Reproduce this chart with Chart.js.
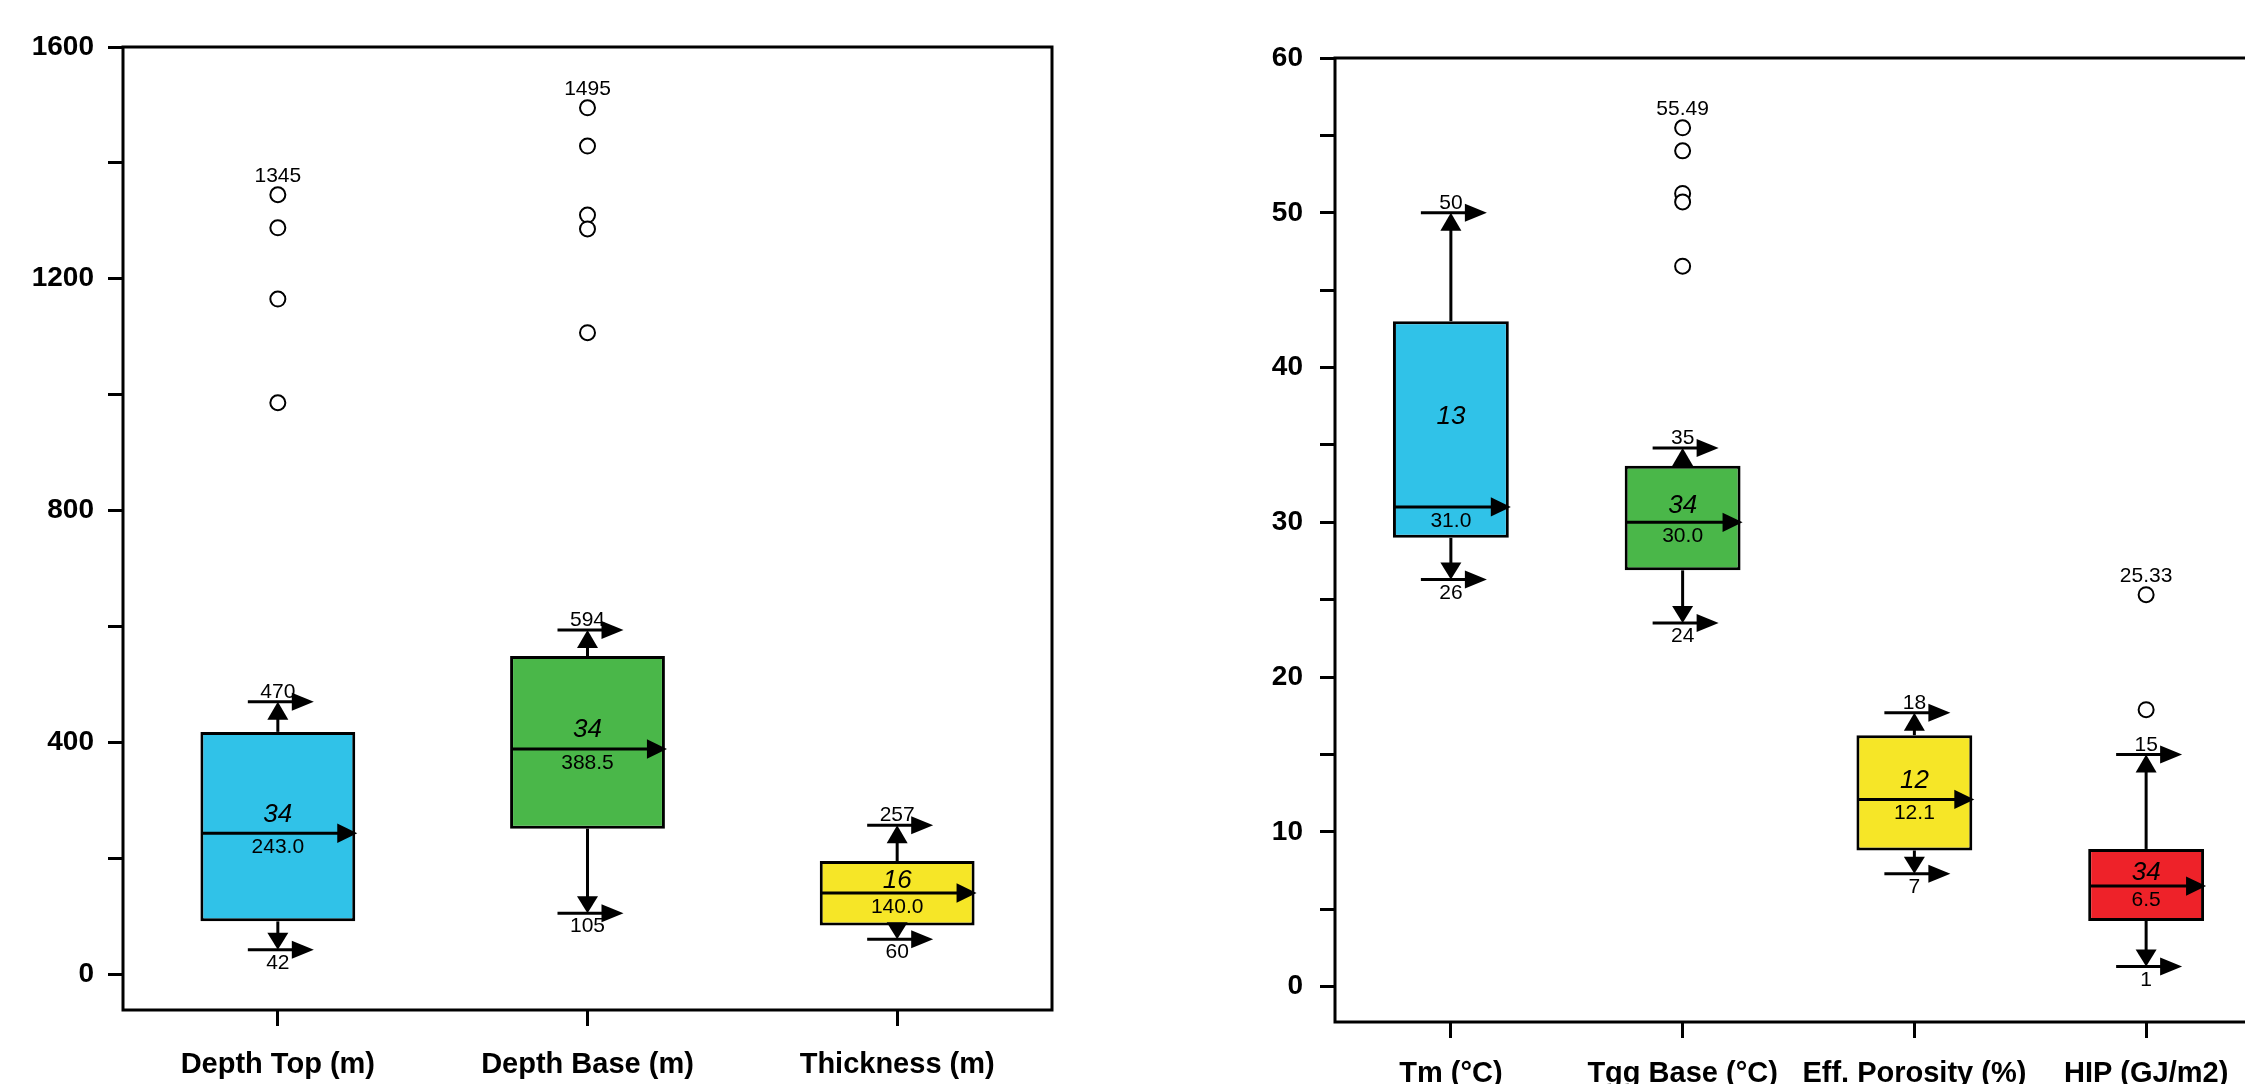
<!DOCTYPE html>
<html>
<head>
<meta charset="utf-8">
<script src="https://cdn.jsdelivr.net/npm/chart.js@4.4.1/dist/chart.umd.min.js"></script>
<style>
  html, body { margin: 0; padding: 0; width: 2245px; height: 1084px; overflow: hidden; background: #fff; }
  canvas { position: absolute; top: 0; }
  #left { left: 0; }
  #right { left: 1150px; }
</style>
</head>
<body>
<canvas id="left" width="1100" height="1084"></canvas>
<canvas id="right" width="1150" height="1100"></canvas>
<script>
// left panel: depths
const leftCats = ['Depth Top (m)', 'Depth Base (m)', 'Thickness (m)'];
const leftQ1 = [91, 251, 84];
const leftQ3 = [418, 549, 195];
const leftMed = [243.0, 388.5, 140.0];
const leftLo = [42, 105, 60];
const leftHi = [470, 594, 257];
const leftN = [34, 34, 16];
const leftOut = [[1345, 1288, 1165, 986], [1495, 1429, 1310, 1286, 1107], []];
const leftColors = ['#30C2E8', '#4AB749', '#F6E627'];
const leftTicks = [0, 200, 400, 600, 800, 1000, 1200, 1400, 1600];
const leftTickLabels = [0, 400, 800, 1200, 1600];

// right panel: temperatures, porosity, HIP
const rightCats = ['Tm (°C)', 'Tgg Base (°C)', 'Eff. Porosity (%)', 'HIP (GJ/m2)'];
const rightQ1 = [29.0, 26.9, 8.8, 4.25];
const rightQ3 = [43.0, 33.65, 16.25, 8.9];
const rightMed = [31.0, 30.0, 12.1, 6.5];
const rightLo = [26.3, 23.5, 7.3, 1.3];
const rightHi = [50, 34.8, 17.7, 15];
const rightN = [13, 34, 12, 34];
const rightOut = [[], [55.49, 54.0, 51.25, 50.7, 46.55], [], [25.33, 17.9]];
const rightColors = ['#30C2E8', '#4AB749', '#F6E627', '#EE2229'];
const rightTicks = [0, 5, 10, 15, 20, 25, 30, 35, 40, 45, 50, 55, 60];
const rightTickLabels = [0, 10, 20, 30, 40, 50, 60];

const FONT = '"Liberation Sans", Arial, sans-serif';

function line(ctx, x1, y1, x2, y2) {
  ctx.beginPath(); ctx.moveTo(x1, y1); ctx.lineTo(x2, y2); ctx.stroke();
}
function arrowRight(ctx, tipX, y, len, half) {
  ctx.beginPath();
  ctx.moveTo(tipX, y);
  ctx.lineTo(tipX - len, y - half);
  ctx.lineTo(tipX - len, y + half);
  ctx.closePath(); ctx.fill();
}
function arrowVert(ctx, x, tipY, dir, len, half) {
  ctx.beginPath();
  ctx.moveTo(x, tipY);
  ctx.lineTo(x - half, tipY - dir * len);
  ctx.lineTo(x + half, tipY - dir * len);
  ctx.closePath(); ctx.fill();
}

// frame round the plot area
const frame = {
  id: 'frame',
  afterDatasetsDraw(chart) {
    const {ctx, chartArea: a} = chart;
    ctx.save();
    ctx.strokeStyle = '#000';
    ctx.lineWidth = 3;
    ctx.strokeRect(a.left, a.top, a.right - a.left, a.bottom - a.top);
    ctx.restore();
  }
};

// whiskers, arrows, medians and text
const boxExtras = {
  id: 'boxExtras',
  afterDatasetsDraw(chart, args, o) {
    const {ctx, scales: {y}} = chart;
    const meta = chart.getDatasetMeta(0);
    ctx.save();
    ctx.fillStyle = '#000';
    ctx.strokeStyle = '#000';
    ctx.lineWidth = 3;
    o.med.forEach((m, i) => {
      const bar = meta.data[i];
      const cx = bar.x, hw = bar.width / 2;
      const yq1 = y.getPixelForValue(o.q1[i]);
      const yq3 = y.getPixelForValue(o.q3[i]);
      const yHi = y.getPixelForValue(o.hi[i]);
      const yLo = y.getPixelForValue(o.lo[i]);
      const yMed = y.getPixelForValue(m);

      line(ctx, cx, yq3, cx, yHi + 4);
      line(ctx, cx, yq1, cx, yLo - 4);
      arrowVert(ctx, cx, yHi, -1, 18, 10.5);
      arrowVert(ctx, cx, yLo, 1, 17, 10.5);

      line(ctx, cx - 30, yHi, cx + 16, yHi);
      arrowRight(ctx, cx + 36, yHi, 22, 9);
      line(ctx, cx - 30, yLo, cx + 16, yLo);
      arrowRight(ctx, cx + 36, yLo, 22, 9);

      line(ctx, cx - hw + 1, yMed, cx + hw - 16, yMed);
      arrowRight(ctx, cx + hw + 2, yMed, 20, 9.7);

      ctx.textAlign = 'center';
      ctx.textBaseline = 'alphabetic';
      ctx.font = '21px ' + FONT;
      ctx.fillText(String(Math.round(o.hi[i])), cx, yHi - 4);
      ctx.fillText(String(Math.round(o.lo[i])), cx, yLo + 19);
      ctx.fillText(m.toFixed(1), cx, yMed + 20);
      if (o.out[i].length) {
        const top = Math.max(...o.out[i]);
        ctx.fillText(String(top), cx, y.getPixelForValue(top) - 13);
      }
      ctx.font = 'italic 26px ' + FONT;
      ctx.fillText(String(o.n[i]), cx, (yq1 + yq3) / 2 - 5);
    });
    ctx.restore();
  }
};

function makeChart(id, cats, q1, q3, med, lo, hi, n, out, colors, ticks, tickLabels, yMin, yMax, geo) {
  const points = [];
  out.forEach((arr, i) => arr.forEach(v => points.push({x: cats[i], y: v})));
  return new Chart(document.getElementById(id), {
    type: 'bar',
    data: {
      labels: cats,
      datasets: [
        {
          data: q1.map((v, i) => [v, q3[i]]),
          backgroundColor: colors,
          borderColor: '#000',
          borderWidth: 3,
          borderSkipped: false,
          barPercentage: 0.5,
          categoryPercentage: 1.0
        },
        {
          type: 'scatter',
          data: points,
          pointStyle: 'circle',
          pointRadius: 7.5,
          pointBorderWidth: 2,
          pointBorderColor: '#000',
          pointBackgroundColor: '#fff'
        }
      ]
    },
    options: {
      responsive: false,
      animation: false,
      layout: { padding: { top: geo.top, right: geo.right, left: 0, bottom: 0 } },
      plugins: {
        legend: { display: false },
        tooltip: { enabled: false },
        boxExtras: { q1, q3, med, lo, hi, n, out }
      },
      scales: {
        x: {
          type: 'category',
          offset: true,
          grid: { display: true, offset: false, drawOnChartArea: false, tickLength: 16, lineWidth: 3, color: '#000' },
          border: { display: false },
          ticks: { color: '#000', font: { family: FONT, size: 29, weight: 'bold' }, padding: geo.xPad, maxRotation: 0, autoSkip: false },
          afterFit(scale) { scale.height = geo.xHeight; }
        },
        y: {
          min: yMin,
          max: yMax,
          grid: { display: true, drawOnChartArea: false, tickLength: 15, lineWidth: 3, color: '#000' },
          border: { display: false },
          afterBuildTicks(scale) { scale.ticks = ticks.map(v => ({value: v})); },
          ticks: {
            color: '#000',
            autoSkip: false,
            padding: geo.yPad,
            font: { family: FONT, size: 28, weight: 'bold' },
            callback: v => tickLabels.includes(v) ? String(v) : ''
          },
          afterFit(scale) { scale.width = geo.yWidth; }
        }
      }
    },
    plugins: [frame, boxExtras]
  });
}

makeChart('left', leftCats, leftQ1, leftQ3, leftMed, leftLo, leftHi, leftN, leftOut, leftColors,
  leftTicks, leftTickLabels, -62, 1600,
  { top: 47, right: 48, yWidth: 123, xHeight: 74, xPad: 22, yPad: 14 });

makeChart('right', rightCats, rightQ1, rightQ3, rightMed, rightLo, rightHi, rightN, rightOut, rightColors,
  rightTicks, rightTickLabels, -2.28, 60,
  { top: 58, right: 38, yWidth: 185, xHeight: 78, xPad: 19, yPad: 17 });
</script>
</body>
</html>
